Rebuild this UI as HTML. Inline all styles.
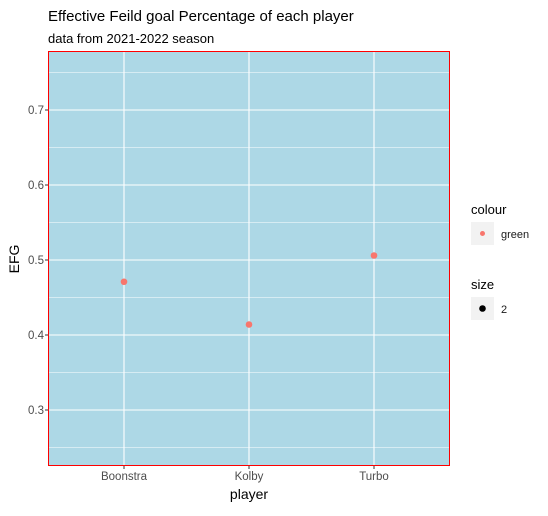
<!DOCTYPE html>
<html><head><meta charset="utf-8"><style>
body{margin:0;background:#fff;font-family:"Liberation Sans",sans-serif;}
svg text{font-family:"Liberation Sans",sans-serif;}
</style></head><body>
<svg width="548" height="511">
<text x="48" y="21" font-size="15" fill="#000">Effective Feild goal Percentage of each player</text>
<text x="48" y="43" font-size="13" fill="#000">data from 2021-2022 season</text>
<g id="plot"></g>
<text x="249" y="499" font-size="14" text-anchor="middle">player</text>
<text transform="translate(19,259) rotate(-90)" font-size="14" text-anchor="middle">EFG</text>
<g>
<text x="471" y="214" font-size="13">colour</text>
<rect x="471" y="222" width="23" height="23" fill="#f2f2f2"/>
<circle cx="482.5" cy="233.5" r="2.5" fill="#f8766d"/>
<text x="501" y="238" font-size="11" fill="#1a1a1a">green</text>
</g>
<g>
<text x="471" y="289" font-size="13">size</text>
<rect x="471" y="297" width="23" height="23" fill="#f2f2f2"/>
<circle cx="482.5" cy="308.5" r="3.3" fill="#000"/>
<text x="501" y="313" font-size="11" fill="#1a1a1a">2</text>
</g>
</svg>
<script>
const categories=["Boonstra","Kolby","Turbo"];
const efgValues=[0.471,0.414,0.506];
const yTicks=[0.3,0.4,0.5,0.6,0.7];
const yMinor=[0.25,0.35,0.45,0.55,0.65,0.75];
const L=49,R=449,T=52,B=465;
function y(v){return 110+(0.7-v)*750;}
function x(i){return 124+i*125;}
const g=document.getElementById('plot');
const NS='http://www.w3.org/2000/svg';
function mk(t,a){const e=document.createElementNS(NS,t);for(const k in a)e.setAttribute(k,a[k]);g.appendChild(e);return e;}
let bg=mk('rect',{x:L,y:T,width:R-L,height:B-T,fill:'#add8e6'});


yMinor.forEach(v=>{let l=mk('line',{x1:L,x2:R,y1:y(v),y2:y(v),stroke:'#fff','stroke-width':0.6});

});
yTicks.forEach(v=>{let l=mk('line',{x1:L,x2:R,y1:y(v),y2:y(v),stroke:'#fff','stroke-width':1.1});


mk('line',{x1:L-4,x2:L-1,y1:y(v),y2:y(v),stroke:'#333'});
let t=mk('text',{x:L-5,y:y(v)+4,'font-size':11.5,fill:'#4d4d4d','text-anchor':'end'});t.textContent=v.toFixed(1);

});
categories.forEach((c,i)=>{let l=mk('line',{x1:x(i),x2:x(i),y1:T,y2:B,stroke:'#fff','stroke-width':1.1});


mk('line',{x1:x(i),x2:x(i),y1:B+1,y2:B+4,stroke:'#333'});
let t=mk('text',{x:x(i),y:B+15,'font-size':11.5,fill:'#4d4d4d','text-anchor':'middle'});t.textContent=c;

});
[[L-1,T-1,R-L+2,1],[L-1,B,R-L+2,1],[L-1,T-1,1,B-T+2],[R,T-1,1,B-T+2]].forEach(r=>{
let br=mk('rect',{x:r[0],y:r[1],width:r[2],height:r[3],fill:'#ff0000'});

});
efgValues.forEach((v,i)=>{let c=mk('circle',{cx:x(i),cy:y(v),r:3.3,fill:'#f8766d'});

});
</script>
</body></html>
